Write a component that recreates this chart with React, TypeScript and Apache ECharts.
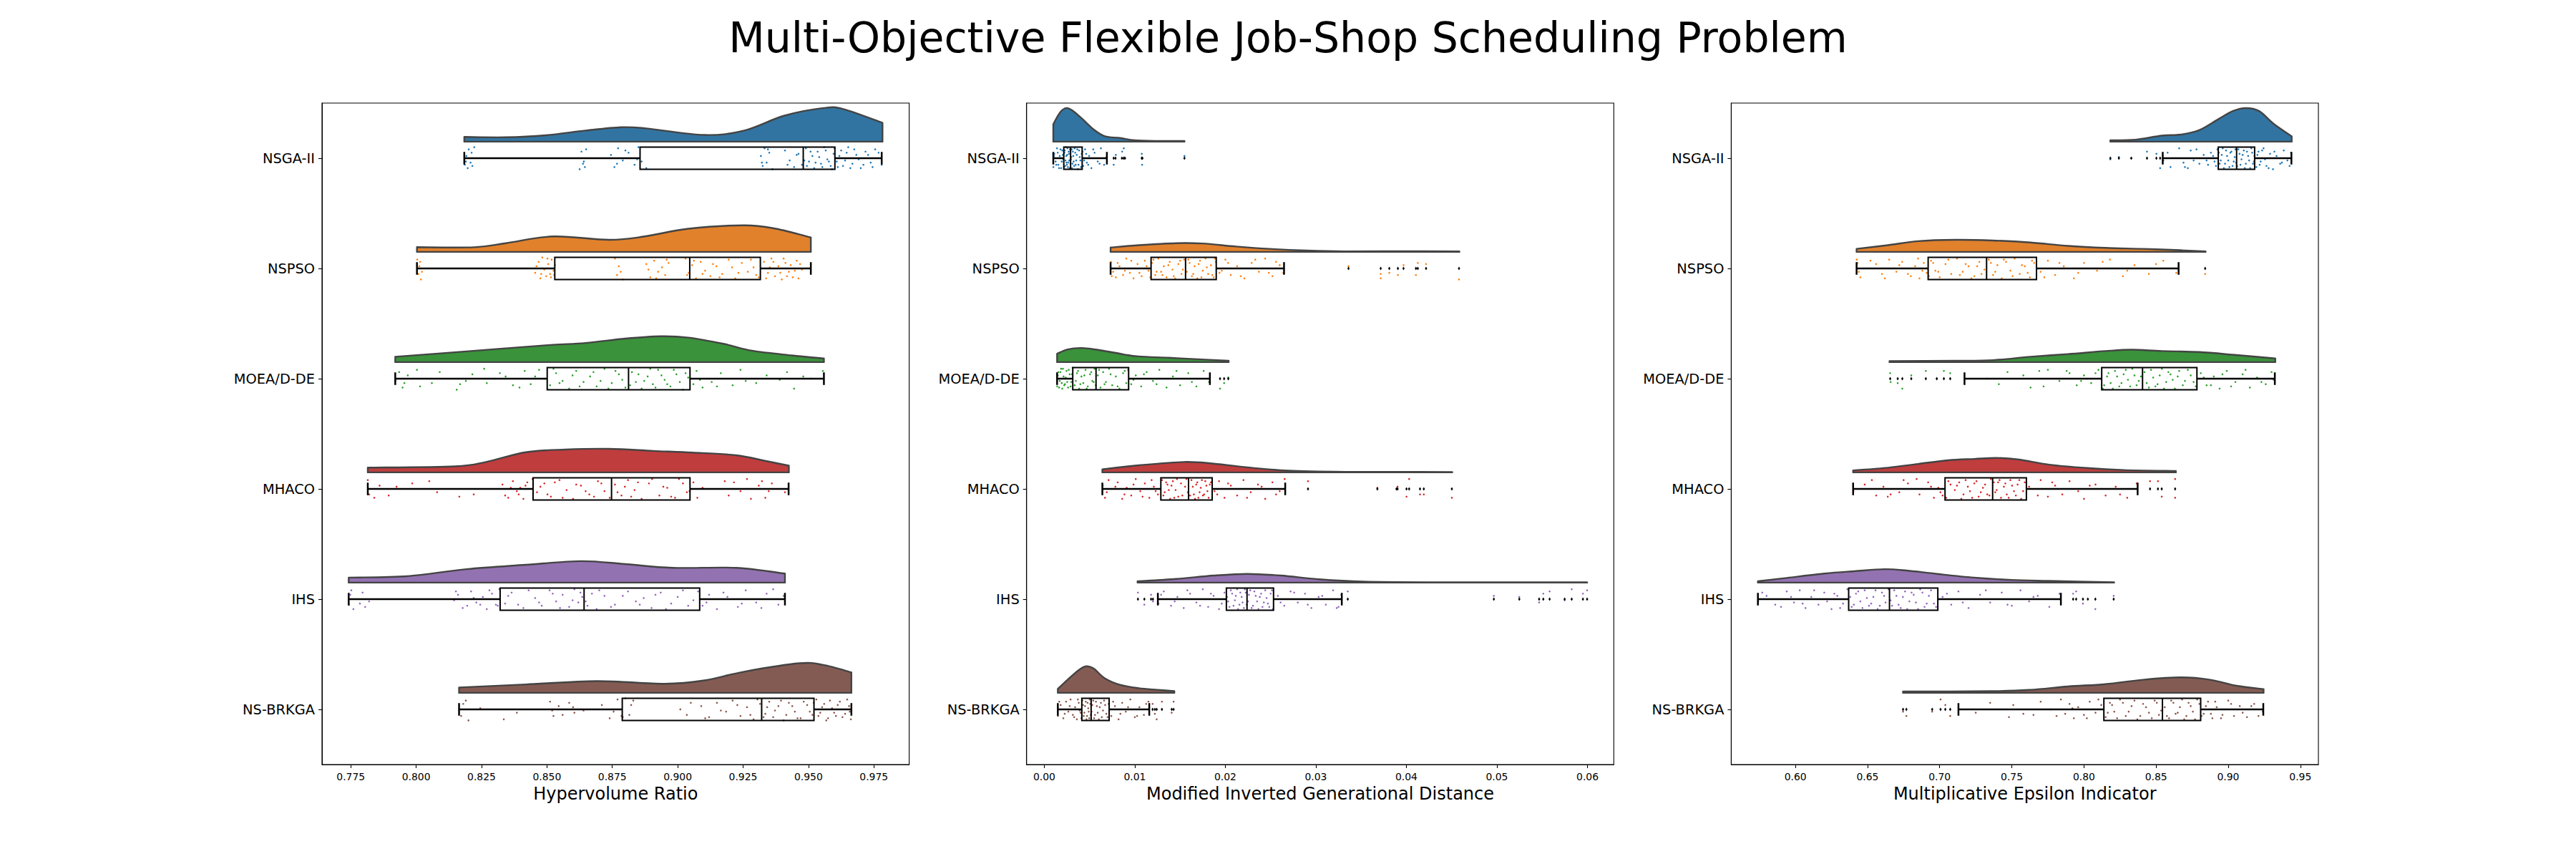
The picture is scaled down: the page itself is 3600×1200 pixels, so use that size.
import React, { useEffect, useRef } from 'react'
import * as echarts from 'echarts'

const algorithms = ['NSGA-II', 'NSPSO', 'MOEA/D-DE', 'MHACO', 'IHS', 'NS-BRKGA']
const metricNames = ['Hypervolume Ratio', 'Modified Inverted Generational Distance', 'Multiplicative Epsilon Indicator']
const cloudColors = ['#3274a1', '#e1812c', '#3a923a', '#c03d3e', '#9372b2', '#845b53']
const dotColors = ['#1f77b4', '#ff7f0e', '#2ca02c', '#d62728', '#9467bd', '#8c564b']

const hvTicks = [0.775, 0.8, 0.825, 0.85, 0.875, 0.9, 0.925, 0.95, 0.975]
const migdTicks = [0, 0.01, 0.02, 0.03, 0.04, 0.05, 0.06]
const meiTicks = [0.6, 0.65, 0.7, 0.75, 0.8, 0.85, 0.9, 0.95]

// box: [lower whisker, q1, median, q3, upper whisker]
const hvBoxes = [
  [0.8184, 0.8856, 0.948, 0.9601, 0.978],
  [0.8003, 0.853, 0.9046, 0.9316, 0.9509],
  [0.792, 0.8501, 0.8812, 0.9047, 0.9559],
  [0.7815, 0.8447, 0.8747, 0.9047, 0.9424],
  [0.7742, 0.8321, 0.8642, 0.9084, 0.941],
  [0.8164, 0.8788, 0.9321, 0.9521, 0.9664],
]
const migdBoxes = [
  [0.00099, 0.00215, 0.0029, 0.00418, 0.00691],
  [0.00732, 0.01179, 0.0156, 0.01899, 0.02648],
  [0.00141, 0.00314, 0.00571, 0.00931, 0.01829],
  [0.00641, 0.01287, 0.01593, 0.01854, 0.02661],
  [0.01254, 0.02011, 0.02239, 0.02532, 0.03286],
  [0.00149, 0.00414, 0.00517, 0.00716, 0.01159],
]
const meiBoxes = [
  [0.8546, 0.8931, 0.9058, 0.9183, 0.9438],
  [0.6424, 0.692, 0.7325, 0.7671, 0.8656],
  [0.7172, 0.8123, 0.8406, 0.8783, 0.9323],
  [0.64, 0.7037, 0.7367, 0.7601, 0.8372],
  [0.574, 0.6369, 0.6652, 0.6987, 0.784],
  [0.713, 0.8138, 0.8544, 0.8809, 0.9243],
]

const hvFliers: number[][] = [[], [], [], [], [], []]
const migdFliers = [
  [0.00766, 0.00786, 0.00857, 0.00877, 0.0089, 0.01076, 0.01084, 0.01548],
  [0.0336, 0.03716, 0.03811, 0.03906, 0.03968, 0.04105, 0.04126, 0.04217, 0.04581],
  [0.01941, 0.01986, 0.02032],
  [0.02913, 0.03679, 0.0389, 0.03902, 0.04001, 0.0403, 0.0415, 0.04192, 0.04502],
  [0.01034, 0.01105, 0.01179, 0.012, 0.03352, 0.04966, 0.05247, 0.05466, 0.05512, 0.05582, 0.05748, 0.05826, 0.0595, 0.05996],
  [0.01196, 0.01221, 0.01241, 0.01299, 0.01407, 0.01428],
]
const meiFliers = [
  [0.8183, 0.8242, 0.8328, 0.8437, 0.8502, 0.8528],
  [0.884],
  [0.6657, 0.6709, 0.6741, 0.6803, 0.6904, 0.698, 0.7029, 0.7073],
  [0.8458, 0.8513, 0.8539, 0.8632],
  [0.7925, 0.7946, 0.7993, 0.8027, 0.8079, 0.8206],
  [0.6746, 0.6769, 0.6948, 0.7006, 0.7039, 0.7073],
]

// half-violin density: [value, relative density (tallest cloud = 100)]
const hvDensity = [
  [[0.8184, 14], [0.8343, 13], [0.8495, 19], [0.8647, 33], [0.8783, 43], [0.8874, 40], [0.9102, 20], [0.9254, 33], [0.9406, 77], [0.9557, 100], [0.9633, 97], [0.9783, 56]],
  [[0.8003, 14], [0.8222, 14], [0.8343, 26], [0.8525, 46], [0.8738, 36], [0.8874, 46], [0.9041, 69], [0.9254, 79], [0.9375, 69], [0.9509, 43]],
  [[0.792, 16], [0.8192, 32], [0.8495, 50], [0.8647, 57], [0.8799, 70], [0.8935, 77], [0.9041, 73], [0.9178, 54], [0.9284, 34], [0.9436, 20], [0.9559, 11]],
  [[0.7815, 14], [0.8147, 18], [0.8267, 31], [0.8419, 60], [0.8571, 68], [0.8738, 70], [0.8905, 64], [0.9057, 59], [0.9223, 51], [0.933, 35], [0.9425, 20]],
  [[0.7742, 15], [0.7964, 19], [0.8192, 40], [0.8419, 53], [0.8632, 64], [0.8799, 55], [0.8981, 44], [0.9223, 44], [0.941, 27]],
  [[0.8164, 16], [0.8419, 25], [0.8692, 35], [0.895, 27], [0.9102, 37], [0.9254, 63], [0.9466, 88], [0.9557, 83], [0.9664, 61]],
]
const migdDensity = [
  [[0.00099, 52], [0.00174, 87], [0.00244, 100], [0.00319, 91], [0.00422, 67], [0.00546, 36], [0.0067, 16], [0.00836, 11], [0.01001, 4], [0.0125, 2], [0.01548, 2]],
  [[0.00732, 13], [0.01043, 20], [0.01457, 26], [0.01746, 25], [0.02119, 16], [0.02491, 9], [0.02905, 4], [0.03319, 1.5], [0.03939, 2], [0.04585, 1.5]],
  [[0.00141, 25], [0.00257, 38], [0.00422, 42], [0.00629, 35], [0.00877, 23], [0.01043, 17], [0.01374, 13], [0.01664, 9], [0.02036, 4]],
  [[0.00641, 9], [0.01043, 21], [0.01539, 31], [0.0187, 26], [0.02284, 14], [0.02698, 5], [0.03319, 1.5], [0.03939, 1.5], [0.04506, 1]],
  [[0.0103, 4], [0.01457, 11], [0.0187, 21], [0.02243, 26], [0.02615, 21], [0.03029, 10], [0.03526, 3], [0.04353, 1], [0.05181, 1], [0.05996, 1]],
  [[0.00149, 12], [0.00257, 39], [0.00381, 68], [0.00463, 79], [0.00546, 72], [0.0067, 43], [0.00836, 24], [0.01043, 14], [0.0125, 9], [0.01436, 5]],
]
const meiDensity = [
  [[0.8183, 4], [0.8357, 6], [0.8539, 18], [0.8669, 21], [0.8798, 34], [0.8928, 66], [0.9032, 91], [0.9123, 100], [0.9214, 91], [0.9318, 52], [0.944, 16]],
  [[0.6424, 9], [0.6642, 20], [0.685, 32], [0.711, 36], [0.7369, 34], [0.7629, 28], [0.7889, 18], [0.8149, 12], [0.8409, 9], [0.8669, 5], [0.8843, 1.5]],
  [[0.6652, 3], [0.711, 4], [0.7369, 6], [0.7629, 16], [0.7889, 24], [0.8149, 33], [0.8331, 37], [0.8539, 33], [0.8798, 30], [0.9058, 21], [0.9326, 11]],
  [[0.64, 6], [0.6642, 14], [0.685, 25], [0.7058, 36], [0.7239, 40], [0.7395, 43], [0.7551, 38], [0.7759, 23], [0.8019, 13], [0.8279, 7], [0.8637, 4]],
  [[0.574, 4], [0.594, 14], [0.62, 27], [0.6408, 34], [0.6616, 40], [0.6772, 36], [0.698, 26], [0.7239, 15], [0.7499, 8], [0.7759, 5], [0.8209, 1]],
  [[0.6746, 4], [0.7369, 5], [0.7629, 9], [0.7889, 19], [0.8149, 26], [0.8409, 39], [0.8669, 46], [0.8876, 39], [0.9058, 21], [0.9245, 11]],
]

// rain points: [value, vertical jitter as a share of the category band]
const hvPoints = [
  [[0.8186, 0.06], [0.8192, -0.02], [0.8197, 0.09], [0.8201, -0.08], [0.8208, 0.04], [0.8222, -0.1], [0.8215, 0.07], [0.8625, 0.1], [0.8632, -0.06], [0.8641, 0.03], [0.865, -0.08], [0.8638, 0.05], [0.8745, -0.03], [0.8758, 0.08], [0.8772, -0.09], [0.879, 0.02], [0.8812, -0.05], [0.8835, 0.06], [0.885, -0.1], [0.8862, 0.03], [0.888, 0.09], [0.9318, -0.02], [0.9325, 0.07], [0.9332, -0.09], [0.934, 0.04], [0.935, -0.05], [0.9362, 0.1], [0.941, -0.07], [0.9428, 0.02], [0.9445, 0.08], [0.9462, -0.04], [0.9475, 0.06], [0.949, -0.09], [0.9502, 0.03], [0.9515, -0.02], [0.9522, 0.09], [0.9535, -0.06], [0.9548, 0.05], [0.956, -0.1], [0.9572, 0.01], [0.9585, 0.07], [0.9596, -0.04], [0.9612, 0.08], [0.9625, -0.07], [0.964, 0.02], [0.9652, -0.1], [0.9668, 0.05], [0.9683, -0.03], [0.97, 0.09], [0.9718, -0.06], [0.9738, 0.04], [0.9755, -0.08], [0.978, 0.06]],
  [[0.8004, -0.08], [0.8008, 0.05], [0.8012, -0.02], [0.8018, 0.1], [0.8022, 0.03], [0.8455, 0.04], [0.8468, -0.06], [0.8475, 0.09], [0.8482, -0.1], [0.849, 0.01], [0.8497, 0.07], [0.8505, -0.04], [0.8512, 0.05], [0.8518, -0.08], [0.8525, 0.02], [0.8531, -0.03], [0.876, -0.09], [0.8768, 0.06], [0.8775, -0.02], [0.879, 0.1], [0.888, -0.04], [0.8895, 0.08], [0.891, -0.07], [0.8925, 0.03], [0.894, -0.01], [0.8952, 0.06], [0.8965, -0.05], [0.903, -0.09], [0.9042, 0.04], [0.9055, -0.03], [0.907, 0.09], [0.9088, -0.06], [0.9105, 0.02], [0.9125, 0.07], [0.9148, -0.02], [0.917, 0.05], [0.9195, -0.08], [0.922, 0.09], [0.9245, -0.05], [0.9268, 0.03], [0.929, -0.01], [0.931, 0.08], [0.933, -0.06], [0.9345, 0.04], [0.9358, -0.09], [0.9372, 0.07], [0.9385, -0.02], [0.9398, 0.1], [0.9412, -0.05], [0.9425, 0.03], [0.944, 0.08], [0.9455, -0.07], [0.9475, 0.01]],
  [[0.7921, 0.02], [0.7935, -0.06], [0.7948, 0.08], [0.7968, -0.03], [0.8003, -0.08], [0.8015, 0.07], [0.806, 0.04], [0.8155, 0.1], [0.8168, 0.05], [0.8215, -0.04], [0.826, -0.09], [0.827, 0.04], [0.83, 0.0], [0.8342, -0.02], [0.837, 0.06], [0.8415, -0.07], [0.8438, 0.05], [0.847, -0.08], [0.849, 0.0], [0.8512, 0.06], [0.8535, -0.05], [0.856, 0.02], [0.8585, 0.09], [0.8612, -0.07], [0.864, 0.03], [0.8665, -0.02], [0.869, 0.07], [0.872, -0.09], [0.8748, 0.04], [0.8775, -0.04], [0.88, 0.08], [0.8825, -0.06], [0.884, 0.03], [0.8862, 0.09], [0.8885, -0.02], [0.8905, 0.05], [0.8925, -0.08], [0.895, 0.01], [0.8972, 0.07], [0.8995, -0.04], [0.902, 0.1], [0.904, -0.01], [0.906, 0.05], [0.9072, -0.07], [0.9095, 0.08], [0.913, 0.03], [0.9165, -0.05], [0.921, 0.06], [0.926, 0.02], [0.934, -0.03], [0.939, 0.01], [0.9418, -0.06], [0.9445, 0.09], [0.951, 0.0], [0.9555, -0.07]],
  [[0.7815, -0.08], [0.782, 0.05], [0.786, -0.03], [0.7895, 0.06], [0.7925, -0.02], [0.7985, -0.05], [0.808, 0.03], [0.8165, 0.07], [0.822, 0.05], [0.833, -0.04], [0.8352, 0.08], [0.837, -0.07], [0.8385, 0.02], [0.8398, -0.01], [0.841, 0.09], [0.8425, -0.06], [0.8438, 0.04], [0.8445, -0.09], [0.8462, 0.03], [0.849, -0.05], [0.8515, 0.07], [0.8548, -0.08], [0.8575, 0.01], [0.86, 0.09], [0.863, -0.03], [0.8662, 0.05], [0.8695, -0.07], [0.872, 0.02], [0.874, 0.08], [0.876, -0.04], [0.8785, 0.06], [0.881, -0.08], [0.8835, 0.01], [0.8862, 0.09], [0.889, -0.05], [0.8915, 0.04], [0.8945, -0.02], [0.8975, 0.07], [0.9005, -0.09], [0.9035, 0.03], [0.906, -0.06], [0.9075, 0.08], [0.9095, -0.01], [0.918, -0.07], [0.9195, 0.06], [0.924, 0.02], [0.9265, -0.09], [0.929, 0.04], [0.931, -0.03], [0.9335, 0.08], [0.936, -0.05], [0.941, 0.03]],
  [[0.7743, 0.05], [0.7748, -0.04], [0.776, 0.09], [0.7795, -0.06], [0.7805, 0.07], [0.782, 0.02], [0.8145, 0.01], [0.816, -0.04], [0.8195, 0.06], [0.821, -0.07], [0.823, 0.03], [0.8255, -0.02], [0.827, 0.09], [0.829, -0.05], [0.8305, 0.05], [0.8318, -0.09], [0.834, 0.04], [0.8365, -0.06], [0.841, 0.08], [0.8455, -0.01], [0.848, 0.06], [0.851, -0.08], [0.8535, 0.02], [0.856, -0.04], [0.8585, 0.07], [0.8605, -0.09], [0.862, 0.03], [0.8635, -0.02], [0.8655, 0.06], [0.8672, -0.05], [0.869, 0.09], [0.872, -0.03], [0.876, 0.05], [0.881, -0.07], [0.884, 0.02], [0.887, -0.01], [0.89, 0.08], [0.8935, -0.06], [0.8975, 0.04], [0.902, -0.08], [0.906, 0.01], [0.9095, 0.06], [0.912, -0.04], [0.915, 0.09], [0.919, -0.02], [0.923, 0.07], [0.926, -0.08], [0.93, 0.03], [0.934, -0.05], [0.9385, 0.05], [0.9405, -0.03]],
  [[0.8165, 0.0], [0.8172, 0.06], [0.818, -0.05], [0.82, 0.1], [0.8245, -0.01], [0.8335, 0.09], [0.8385, 0.03], [0.8512, -0.07], [0.8525, 0.06], [0.8545, -0.03], [0.856, 0.05], [0.86, -0.02], [0.8605, 0.03], [0.864, 0.01], [0.871, -0.04], [0.874, 0.08], [0.877, -0.09], [0.8785, 0.06], [0.88, -0.1], [0.8815, 0.05], [0.883, -0.08], [0.901, 0.0], [0.9035, 0.05], [0.909, -0.03], [0.912, 0.07], [0.915, -0.06], [0.9185, 0.02], [0.921, -0.08], [0.924, 0.06], [0.9265, -0.02], [0.929, 0.09], [0.9315, -0.05], [0.9335, 0.04], [0.935, -0.07], [0.9365, 0.07], [0.9385, -0.03], [0.9405, 0.1], [0.9425, -0.06], [0.9448, 0.02], [0.947, 0.08], [0.9495, -0.04], [0.9515, 0.05], [0.953, -0.09], [0.9545, 0.03], [0.956, -0.05], [0.9575, 0.08], [0.959, -0.01], [0.9605, 0.06], [0.962, -0.07], [0.964, 0.04], [0.9655, -0.03], [0.9662, 0.09]],
]
const hvPointsMore = [
  [[0.819, 0.03], [0.8212, -0.05], [0.8645, 0.08], [0.8768, 0.05], [0.88, -0.07], [0.8845, 0.01], [0.9322, 0.04], [0.9345, -0.08], [0.942, 0.06], [0.9455, -0.03], [0.9484, 0.02], [0.9494, 0.07], [0.9508, -0.06], [0.9527, 0.04], [0.9541, -0.01], [0.9553, 0.08], [0.9566, -0.07], [0.9578, 0.03], [0.959, 0.1], [0.96, -0.09], [0.9608, 0.03], [0.9618, -0.02], [0.9632, 0.07], [0.9646, -0.05], [0.966, 0.09], [0.9675, -0.08], [0.9692, 0.01], [0.971, 0.06], [0.9728, -0.03], [0.9745, 0.08], [0.9768, -0.05]],
  [[0.8015, -0.06], [0.846, -0.02], [0.8478, 0.05], [0.8502, -0.09], [0.8515, 0.08], [0.8528, 0.06], [0.8782, 0.03], [0.8888, 0.01], [0.8918, 0.09], [0.8958, -0.08], [0.9036, 0.06], [0.9062, -0.07], [0.9095, 0.05], [0.9135, -0.04], [0.916, 0.08], [0.9208, -0.01], [0.9232, 0.04], [0.928, -0.08], [0.93, 0.06], [0.9338, 0.09], [0.9352, -0.01], [0.9366, -0.06], [0.9392, 0.04], [0.9405, -0.09], [0.9418, 0.07], [0.9432, -0.03], [0.9448, 0.02], [0.9462, 0.09], [0.9468, -0.04]],
  [[0.7955, 0.04], [0.809, -0.06], [0.819, 0.02], [0.832, -0.05], [0.8395, 0.08], [0.8455, -0.02], [0.8525, -0.09], [0.8548, 0.04], [0.8598, -0.03], [0.8625, 0.07], [0.8678, -0.06], [0.8705, 0.02], [0.8735, 0.09], [0.8762, -0.07], [0.8788, 0.01], [0.8818, 0.06], [0.885, -0.04], [0.8872, 0.02], [0.8895, -0.09], [0.8915, 0.08], [0.8938, -0.03], [0.896, 0.05], [0.8985, -0.08], [0.9008, 0.03], [0.903, -0.05], [0.9085, 0.01], [0.915, 0.07], [0.924, -0.08], [0.93, 0.04], [0.948, -0.02]],
  [[0.784, 0.08], [0.805, -0.07], [0.834, 0.06], [0.8362, -0.01], [0.8392, 0.05], [0.8418, -0.03], [0.8475, -0.02], [0.8502, 0.05], [0.853, -0.06], [0.856, 0.08], [0.8612, -0.04], [0.8648, 0.02], [0.868, 0.07], [0.8708, -0.05], [0.877, 0.03], [0.8798, -0.02], [0.8822, 0.07], [0.8848, -0.06], [0.8875, 0.04], [0.8902, -0.09], [0.893, 0.06], [0.896, -0.01], [0.899, 0.08], [0.902, -0.05], [0.9045, 0.02], [0.917, 0.04], [0.9215, -0.06], [0.928, 0.09], [0.9322, -0.07], [0.9348, 0.02]],
  [[0.7752, -0.08], [0.7785, 0.04], [0.8152, -0.07], [0.8178, 0.08], [0.822, -0.01], [0.8245, 0.05], [0.828, -0.08], [0.8312, 0.06], [0.8352, -0.03], [0.839, 0.05], [0.843, -0.08], [0.847, 0.03], [0.8522, -0.05], [0.855, 0.08], [0.8598, 0.01], [0.8628, -0.06], [0.8648, 0.02], [0.87, -0.08], [0.8745, 0.07], [0.879, -0.03], [0.8855, 0.05], [0.8915, -0.04], [0.8955, 0.09], [0.9, -0.02], [0.904, 0.06], [0.9078, -0.07], [0.911, 0.03], [0.9175, -0.06], [0.9245, 0.04], [0.932, 0.08], [0.9365, -0.09]],
  [[0.819, -0.08], [0.852, 0.01], [0.8585, -0.06], [0.8755, 0.02], [0.879, 0.07], [0.8822, -0.04], [0.905, -0.06], [0.9105, 0.08], [0.9165, 0.01], [0.9228, -0.04], [0.9278, 0.05], [0.9305, -0.09], [0.9328, 0.07], [0.9342, -0.02], [0.9372, 0.01], [0.9395, -0.08], [0.9415, 0.05], [0.9438, -0.03], [0.9458, 0.08], [0.9482, -0.07], [0.9505, 0.02], [0.952, -0.06], [0.9538, 0.06], [0.9552, -0.02], [0.9568, 0.1], [0.9582, -0.08], [0.9598, 0.03], [0.9612, -0.04], [0.963, 0.07], [0.9648, -0.09], [0.9658, 0.02]],
]
const migdPoints = [
  [[0.001, 0.08], [0.0011, -0.04], [0.00125, 0.03], [0.0014, -0.09], [0.00155, 0.06], [0.0017, -0.02], [0.00185, 0.09], [0.00198, -0.07], [0.0021, 0.01], [0.00222, -0.05], [0.0023, 0.07], [0.00238, -0.1], [0.00245, 0.04], [0.00252, -0.03], [0.0026, 0.08], [0.00268, -0.06], [0.00275, 0.02], [0.00283, -0.08], [0.0029, 0.05], [0.00298, -0.01], [0.00306, 0.09], [0.00315, -0.06], [0.00324, 0.03], [0.00335, -0.09], [0.00346, 0.06], [0.00358, -0.03], [0.0037, 0.1], [0.00384, -0.07], [0.00398, 0.02], [0.00412, -0.04], [0.0043, 0.07], [0.0045, -0.08], [0.0047, 0.04], [0.00495, -0.02], [0.0052, 0.09], [0.00555, -0.05], [0.0059, 0.03], [0.00625, -0.09], [0.0066, 0.06], [0.00688, -0.01], [0.00766, 0.06], [0.0079, -0.03], [0.0086, -0.06], [0.00878, -0.09], [0.00892, 0.0], [0.01076, -0.04], [0.0108, 0.06], [0.01548, -0.02]],
  [[0.00735, -0.06], [0.0076, 0.03], [0.0079, 0.08], [0.0083, -0.02], [0.0087, 0.06], [0.00905, -0.09], [0.00945, 0.04], [0.00985, 0.09], [0.0103, -0.04], [0.01075, 0.07], [0.0111, -0.07], [0.0115, 0.02], [0.0119, -0.05], [0.01225, 0.06], [0.0126, -0.09], [0.0129, 0.03], [0.0132, -0.02], [0.0135, 0.08], [0.01385, -0.06], [0.01415, 0.01], [0.01445, 0.09], [0.0148, -0.04], [0.01515, 0.05], [0.01545, -0.08], [0.01575, 0.03], [0.01605, -0.05], [0.0163, 0.07], [0.0166, -0.02], [0.0169, 0.09], [0.0172, -0.07], [0.0175, 0.02], [0.0178, -0.09], [0.0181, 0.05], [0.0184, -0.03], [0.0187, 0.08], [0.01895, -0.06], [0.01935, 0.04], [0.02, -0.08], [0.0206, 0.06], [0.0213, -0.02], [0.0221, 0.09], [0.0229, -0.05], [0.0237, 0.03], [0.0244, -0.09], [0.0252, 0.07], [0.026, -0.03], [0.0264, 0.04], [0.0336, -0.02], [0.03716, 0.05], [0.03716, 0.09], [0.03811, 0.04], [0.03906, 0.06], [0.03968, -0.03], [0.04105, 0.06], [0.04126, -0.05], [0.04217, -0.04], [0.04581, 0.1]],
  [[0.00142, 0.07], [0.00155, -0.06], [0.0017, 0.02], [0.00185, -0.09], [0.00198, 0.09], [0.00212, -0.02], [0.00228, 0.05], [0.00245, -0.07], [0.00262, 0.08], [0.0028, -0.04], [0.00298, 0.03], [0.00312, -0.1], [0.00335, 0.06], [0.0036, -0.05], [0.00385, 0.09], [0.0041, -0.02], [0.0043, 0.04], [0.00455, -0.08], [0.0048, 0.07], [0.00505, -0.04], [0.0053, 0.02], [0.00555, -0.09], [0.00568, 0.06], [0.0059, -0.03], [0.0062, 0.08], [0.0065, -0.06], [0.0068, 0.03], [0.00715, -0.09], [0.0075, 0.06], [0.0079, -0.02], [0.0083, 0.09], [0.0087, -0.05], [0.00905, 0.04], [0.00925, -0.08], [0.0096, 0.05], [0.0101, -0.03], [0.0107, 0.07], [0.0113, -0.06], [0.012, 0.02], [0.0127, -0.08], [0.0135, 0.08], [0.0142, -0.02], [0.015, 0.06], [0.0159, -0.05], [0.0168, 0.07], [0.0176, -0.07], [0.0182, 0.03], [0.01941, 0.09], [0.01986, 0.04], [0.02032, -0.01]],
  [[0.00645, -0.03], [0.0067, 0.08], [0.0071, -0.08], [0.0076, 0.04], [0.0081, -0.06], [0.0086, 0.09], [0.0091, -0.01], [0.0096, 0.06], [0.0101, -0.09], [0.0106, 0.02], [0.0111, -0.05], [0.0116, 0.08], [0.0121, -0.02], [0.01255, 0.05], [0.013, -0.08], [0.0133, 0.03], [0.0136, -0.04], [0.0139, 0.09], [0.0142, -0.07], [0.0145, 0.01], [0.0148, 0.07], [0.0151, -0.05], [0.0154, 0.04], [0.0157, -0.09], [0.0161, 0.06], [0.0164, -0.02], [0.01665, 0.09], [0.0169, -0.06], [0.01715, 0.03], [0.0174, -0.08], [0.01765, 0.05], [0.0179, -0.03], [0.01815, 0.08], [0.0184, -0.06], [0.0188, 0.02], [0.0193, -0.07], [0.0199, 0.08], [0.0206, -0.03], [0.0213, 0.06], [0.022, -0.08], [0.0228, 0.03], [0.0236, -0.04], [0.0244, 0.09], [0.0252, -0.06], [0.026, 0.02], [0.02655, -0.09], [0.02913, -0.07], [0.03679, -0.01], [0.0389, 0.04], [0.03902, -0.02], [0.04001, 0.07], [0.0403, -0.09], [0.0415, 0.05], [0.04192, 0.05], [0.04502, 0.08]],
  [[0.01034, -0.06], [0.01105, 0.05], [0.01179, -0.04], [0.012, 0.02], [0.0126, 0.04], [0.0132, -0.07], [0.014, 0.06], [0.0147, -0.02], [0.0154, 0.08], [0.0161, -0.05], [0.0168, 0.03], [0.0175, -0.09], [0.0181, 0.07], [0.0187, -0.03], [0.0193, 0.09], [0.0199, -0.06], [0.0203, 0.02], [0.0206, -0.08], [0.0209, 0.06], [0.02115, -0.03], [0.0214, 0.09], [0.02165, -0.06], [0.0219, 0.03], [0.02215, -0.09], [0.02235, 0.05], [0.0226, -0.04], [0.0229, 0.08], [0.0232, -0.07], [0.0235, 0.02], [0.0238, -0.02], [0.0241, 0.07], [0.0244, -0.08], [0.0247, 0.04], [0.025, -0.05], [0.02525, 0.09], [0.0258, -0.03], [0.0265, 0.06], [0.0272, -0.07], [0.028, 0.03], [0.0288, -0.05], [0.0295, 0.08], [0.0303, -0.02], [0.0311, 0.05], [0.0319, -0.08], [0.0325, 0.07], [0.0328, -0.04], [0.03352, -0.07], [0.04966, -0.03], [0.05247, -0.02], [0.05466, 0.03], [0.05512, -0.05], [0.05582, -0.07], [0.05748, 0.01], [0.05826, -0.09], [0.0595, -0.05], [0.05996, -0.08]],
  [[0.0015, 0.06], [0.0018, -0.04], [0.0021, 0.08], [0.0024, -0.07], [0.00265, 0.02], [0.0029, -0.09], [0.00315, 0.05], [0.0034, -0.02], [0.0036, 0.09], [0.0038, -0.06], [0.004, 0.03], [0.0042, -0.08], [0.00435, 0.06], [0.0045, -0.03], [0.00465, 0.09], [0.00478, -0.06], [0.0049, 0.02], [0.00502, -0.09], [0.00512, 0.05], [0.0053, -0.04], [0.0055, 0.08], [0.0057, -0.07], [0.0059, 0.03], [0.00612, -0.02], [0.00635, 0.07], [0.0066, -0.08], [0.00685, 0.04], [0.0071, -0.05], [0.0074, 0.06], [0.0078, -0.03], [0.0082, 0.09], [0.0086, -0.06], [0.009, 0.02], [0.0095, -0.09], [0.01, 0.07], [0.0105, -0.02], [0.011, 0.05], [0.0115, -0.07], [0.01196, -0.05], [0.01221, 0.04], [0.01241, 0.09], [0.01299, -0.07], [0.01407, 0.03], [0.01428, -0.07]],
]
const migdPointsMore = [
  [[0.00105, -0.02], [0.00132, 0.06], [0.00148, -0.05], [0.00162, 0.09], [0.00178, -0.08], [0.00192, 0.03], [0.00205, -0.03], [0.00218, 0.08], [0.00226, -0.07], [0.00234, 0.02], [0.00242, -0.02], [0.00249, 0.06], [0.00256, -0.09], [0.00264, 0.04], [0.00272, -0.04], [0.00279, 0.09], [0.00287, -0.06], [0.00294, 0.01], [0.00302, -0.08], [0.00311, 0.05], [0.0032, -0.02], [0.0033, 0.07], [0.00341, -0.05], [0.00352, 0.02], [0.00364, -0.08], [0.00377, 0.06], [0.00391, -0.01], [0.00405, 0.08], [0.00422, -0.06], [0.0044, 0.02], [0.00462, -0.04], [0.00485, 0.06], [0.0054, -0.08], [0.0061, 0.05]],
  [[0.00745, 0.07], [0.0081, -0.05], [0.0089, 0.02], [0.0096, -0.07], [0.0105, 0.04], [0.0113, -0.02], [0.0117, 0.08], [0.01205, -0.08], [0.0124, 0.03], [0.01305, 0.06], [0.0137, -0.03], [0.0143, 0.07], [0.015, -0.07], [0.0153, 0.01], [0.0159, -0.08], [0.01645, 0.05], [0.01705, -0.04], [0.01735, 0.08], [0.01795, -0.01], [0.01855, 0.06], [0.01885, -0.09], [0.0196, 0.02], [0.0203, -0.05], [0.0217, 0.07], [0.0233, -0.08], [0.0248, 0.04], [0.0256, -0.06]],
  [[0.00148, -0.03], [0.00163, 0.08], [0.00178, -0.06], [0.00192, 0.04], [0.00205, -0.09], [0.0022, 0.06], [0.00236, -0.01], [0.00253, 0.03], [0.0027, -0.08], [0.0029, 0.07], [0.00305, -0.04], [0.00348, 0.02], [0.00372, -0.07], [0.00398, 0.05], [0.00442, -0.03], [0.00468, 0.09], [0.00518, -0.06], [0.00545, 0.03], [0.00605, -0.08], [0.00665, 0.05], [0.00732, -0.04], [0.0081, 0.07], [0.00888, -0.07], [0.00985, 0.01], [0.011, -0.04], [0.0124, 0.05], [0.0146, -0.07], [0.0163, 0.03]],
  [[0.0069, 0.03], [0.00785, -0.02], [0.00885, 0.05], [0.00985, -0.04], [0.01085, 0.07], [0.01185, -0.08], [0.0123, 0.02], [0.01315, 0.06], [0.01345, -0.06], [0.01375, 0.01], [0.01405, -0.03], [0.01435, 0.08], [0.01465, -0.09], [0.01525, 0.06], [0.01555, -0.02], [0.01585, 0.03], [0.01625, -0.08], [0.01652, 0.05], [0.01678, -0.04], [0.01702, 0.08], [0.01728, -0.01], [0.01752, 0.06], [0.01778, -0.07], [0.01802, 0.02], [0.01828, -0.04], [0.0191, 0.05], [0.0203, -0.05], [0.0224, 0.08], [0.024, -0.02], [0.0256, 0.05]],
  [[0.0129, -0.04], [0.0144, 0.02], [0.0158, -0.08], [0.0172, 0.06], [0.0184, -0.05], [0.0196, 0.04], [0.0202, -0.02], [0.02045, 0.07], [0.02075, -0.05], [0.02105, 0.01], [0.0213, -0.09], [0.02155, 0.05], [0.0218, -0.02], [0.02205, 0.08], [0.02225, -0.06], [0.0225, 0.02], [0.02275, -0.08], [0.02305, 0.06], [0.02335, -0.03], [0.02365, 0.09], [0.02395, -0.05], [0.02425, 0.03], [0.02455, -0.01], [0.02485, 0.07], [0.02515, -0.08], [0.0261, 0.03], [0.0276, -0.06], [0.0291, 0.05], [0.0307, -0.03], [0.0323, 0.08]],
  [[0.00165, -0.07], [0.00225, 0.04], [0.0028, -0.03], [0.0033, 0.07], [0.0037, -0.09], [0.00392, 0.01], [0.0041, 0.08], [0.00428, -0.04], [0.00442, 0.03], [0.00458, -0.07], [0.00472, 0.06], [0.00485, -0.01], [0.00496, 0.08], [0.00508, -0.05], [0.00522, 0.02], [0.0054, -0.08], [0.0056, 0.05], [0.0058, -0.03], [0.00602, 0.09], [0.00625, -0.06], [0.00648, 0.01], [0.00672, -0.04], [0.00698, 0.07], [0.0076, -0.07], [0.0084, 0.04], [0.00925, -0.02], [0.01025, 0.06], [0.01125, -0.05]],
]
const meiPoints = [
  [[0.8183, 0.01], [0.8242, -0.01], [0.8328, 0.0], [0.8437, -0.06], [0.8502, -0.04], [0.8528, 0.09], [0.855, 0.02], [0.86, 0.08], [0.866, -0.09], [0.87, 0.08], [0.872, 0.09], [0.874, -0.07], [0.876, 0.02], [0.88, 0.05], [0.883, -0.03], [0.886, 0.06], [0.888, -0.05], [0.8905, 0.03], [0.8925, -0.08], [0.894, 0.05], [0.8955, -0.03], [0.897, 0.09], [0.8985, -0.07], [0.9, 0.02], [0.9015, -0.05], [0.903, 0.07], [0.9045, -0.01], [0.9055, 0.04], [0.907, -0.08], [0.9085, 0.06], [0.91, -0.03], [0.9115, 0.09], [0.913, -0.06], [0.9145, 0.02], [0.916, -0.09], [0.9172, 0.05], [0.9182, -0.02], [0.9195, 0.08], [0.921, -0.06], [0.9225, 0.03], [0.9245, -0.09], [0.9265, 0.07], [0.929, -0.04], [0.931, 0.1], [0.9335, -0.02], [0.936, 0.05], [0.9385, -0.07], [0.941, 0.02], [0.9435, -0.05]],
  [[0.6425, -0.08], [0.643, -0.05], [0.645, 0.08], [0.656, -0.04], [0.66, 0.05], [0.665, -0.08], [0.67, 0.03], [0.674, -0.06], [0.68, 0.07], [0.683, -0.02], [0.686, 0.09], [0.689, -0.05], [0.691, 0.04], [0.694, -0.07], [0.697, 0.02], [0.7, 0.08], [0.704, -0.04], [0.708, 0.05], [0.712, -0.09], [0.716, 0.03], [0.72, -0.02], [0.724, 0.07], [0.7275, -0.06], [0.731, 0.01], [0.734, -0.08], [0.737, 0.06], [0.74, -0.03], [0.743, 0.09], [0.746, -0.06], [0.749, 0.02], [0.752, -0.09], [0.7555, 0.05], [0.759, -0.02], [0.7625, 0.08], [0.7655, -0.05], [0.77, 0.03], [0.775, -0.07], [0.78, 0.06], [0.786, -0.02], [0.793, 0.09], [0.8, -0.05], [0.809, 0.02], [0.818, -0.08], [0.827, 0.07], [0.835, -0.03], [0.845, 0.05], [0.855, -0.07], [0.864, 0.04], [0.884, 0.05]],
  [[0.6657, -0.05], [0.666, 0.03], [0.6709, 0.04], [0.6741, 0.09], [0.6803, -0.03], [0.6904, -0.07], [0.698, 0.0], [0.7029, -0.07], [0.7073, -0.05], [0.733, 0.0], [0.747, -0.06], [0.763, 0.08], [0.769, -0.07], [0.775, -0.08], [0.783, 0.02], [0.79, -0.05], [0.795, 0.06], [0.8, -0.03], [0.805, 0.04], [0.81, -0.08], [0.814, 0.06], [0.817, -0.05], [0.82, 0.09], [0.823, -0.02], [0.826, 0.04], [0.829, -0.08], [0.832, 0.07], [0.835, -0.03], [0.838, 0.02], [0.842, -0.06], [0.845, 0.08], [0.848, -0.01], [0.851, 0.05], [0.854, -0.09], [0.857, 0.03], [0.86, -0.04], [0.863, 0.09], [0.866, -0.07], [0.87, 0.02], [0.874, -0.03], [0.8775, 0.07], [0.881, -0.05], [0.885, 0.06], [0.89, -0.02], [0.894, 0.09], [0.899, -0.07], [0.905, 0.03], [0.91, -0.04], [0.915, 0.08], [0.92, -0.01], [0.926, 0.05], [0.93, -0.06]],
  [[0.6402, 0.02], [0.653, -0.08], [0.656, 0.06], [0.661, -0.02], [0.666, 0.05], [0.672, 0.03], [0.678, -0.05], [0.684, -0.09], [0.688, 0.04], [0.692, -0.06], [0.696, 0.08], [0.699, -0.01], [0.702, 0.06], [0.706, -0.07], [0.709, 0.04], [0.712, -0.03], [0.715, 0.09], [0.718, -0.08], [0.721, 0.02], [0.724, -0.05], [0.727, 0.07], [0.73, -0.01], [0.733, 0.05], [0.7355, -0.09], [0.7385, 0.03], [0.7405, -0.06], [0.7425, 0.08], [0.7445, -0.02], [0.7465, 0.05], [0.749, -0.08], [0.7515, 0.02], [0.754, -0.04], [0.7565, 0.09], [0.759, -0.06], [0.764, 0.04], [0.77, -0.08], [0.775, 0.07], [0.78, -0.03], [0.785, 0.05], [0.79, -0.07], [0.796, 0.02], [0.8, 0.09], [0.808, -0.04], [0.815, 0.06], [0.822, -0.02], [0.83, 0.08], [0.8365, -0.05], [0.8458, -0.07], [0.8513, -0.07], [0.8539, 0.07], [0.8632, -0.09], [0.8632, 0.08]],
  [[0.5742, 0.02], [0.58, -0.03], [0.586, 0.05], [0.594, -0.07], [0.599, 0.03], [0.603, -0.08], [0.607, 0.08], [0.611, -0.02], [0.616, 0.05], [0.62, -0.06], [0.625, 0.09], [0.629, -0.03], [0.633, 0.04], [0.636, -0.09], [0.639, 0.07], [0.642, -0.05], [0.645, 0.02], [0.648, -0.08], [0.651, 0.06], [0.654, -0.02], [0.657, 0.09], [0.66, -0.06], [0.6625, 0.03], [0.6645, -0.09], [0.667, 0.06], [0.67, -0.03], [0.673, 0.08], [0.676, -0.07], [0.679, 0.02], [0.682, -0.04], [0.685, 0.09], [0.688, -0.06], [0.691, 0.04], [0.694, -0.08], [0.6975, 0.07], [0.702, -0.02], [0.708, 0.05], [0.713, -0.07], [0.72, 0.08], [0.728, -0.04], [0.735, 0.03], [0.743, -0.06], [0.75, 0.06], [0.756, -0.08], [0.762, 0.02], [0.768, -0.03], [0.776, 0.07], [0.783, -0.05], [0.7925, -0.05], [0.7946, -0.07], [0.7993, 0.04], [0.8079, 0.09], [0.8206, -0.03]],
  [[0.6746, 0.02], [0.6769, 0.06], [0.6948, 0.02], [0.7006, -0.09], [0.7039, -0.04], [0.7073, 0.06], [0.725, 0.03], [0.748, 0.07], [0.751, -0.04], [0.765, 0.05], [0.777, 0.0], [0.784, -0.09], [0.787, 0.04], [0.79, -0.05], [0.793, 0.08], [0.796, -0.02], [0.8, 0.05], [0.804, -0.07], [0.808, 0.03], [0.812, -0.04], [0.815, 0.07], [0.818, -0.06], [0.821, 0.02], [0.825, -0.09], [0.829, 0.06], [0.833, -0.03], [0.837, 0.09], [0.841, -0.05], [0.845, 0.03], [0.849, -0.08], [0.852, 0.05], [0.856, -0.02], [0.859, 0.08], [0.862, -0.06], [0.865, 0.03], [0.868, -0.09], [0.871, 0.06], [0.874, -0.03], [0.877, 0.09], [0.88, -0.05], [0.883, 0.04], [0.886, -0.07], [0.889, 0.08], [0.892, -0.02], [0.896, 0.05], [0.9, -0.08], [0.904, 0.06], [0.908, -0.03], [0.913, 0.07], [0.918, -0.05], [0.924, 0.02]],
]
const meiPointsMore = [
  [[0.858, -0.05], [0.869, 0.04], [0.878, -0.08], [0.885, 0.02], [0.8895, -0.02], [0.8915, 0.07], [0.8935, -0.05], [0.8948, 0.02], [0.8962, -0.09], [0.8978, 0.05], [0.8992, -0.02], [0.9008, 0.08], [0.9022, -0.06], [0.9038, 0.03], [0.905, -0.08], [0.9062, 0.07], [0.9078, -0.04], [0.9092, 0.01], [0.9108, -0.07], [0.9122, 0.05], [0.9138, -0.02], [0.9152, 0.09], [0.9166, -0.05], [0.9178, 0.03], [0.9202, -0.03], [0.9218, 0.06], [0.9235, -0.07], [0.9255, 0.01], [0.928, 0.09], [0.932, -0.06], [0.9372, 0.04], [0.9425, 0.07]],
  [[0.644, 0.03], [0.652, -0.07], [0.662, 0.09], [0.672, -0.03], [0.678, 0.05], [0.685, -0.09], [0.688, 0.02], [0.6925, 0.07], [0.6955, -0.05], [0.699, 0.03], [0.706, -0.08], [0.714, 0.06], [0.718, -0.04], [0.722, 0.09], [0.726, -0.02], [0.729, 0.05], [0.7355, -0.05], [0.7385, 0.03], [0.7445, -0.08], [0.7505, 0.07], [0.757, -0.03], [0.761, 0.04], [0.764, -0.07], [0.7725, 0.08], [0.783, -0.05], [0.796, 0.04], [0.813, -0.06], [0.83, 0.02], [0.85, -0.04]],
  [[0.741, 0.05], [0.758, -0.03], [0.772, 0.07], [0.788, -0.07], [0.798, 0.02], [0.808, -0.05], [0.813, 0.09], [0.816, -0.02], [0.8185, 0.04], [0.8215, -0.07], [0.8245, 0.07], [0.8275, -0.04], [0.8305, 0.01], [0.8335, -0.09], [0.8365, 0.06], [0.8395, -0.02], [0.8435, 0.04], [0.8465, -0.08], [0.8495, 0.07], [0.8525, -0.03], [0.8555, 0.09], [0.8585, -0.06], [0.8615, 0.01], [0.865, -0.02], [0.8685, 0.06], [0.872, -0.08], [0.876, 0.03], [0.883, -0.01], [0.888, 0.06], [0.896, -0.04], [0.902, 0.07], [0.912, -0.08], [0.923, 0.03], [0.9315, 0.01]],
  [[0.648, -0.04], [0.664, 0.07], [0.675, -0.08], [0.686, 0.05], [0.694, -0.02], [0.7005, 0.03], [0.7045, 0.08], [0.7075, -0.04], [0.7105, 0.01], [0.7135, -0.06], [0.7165, 0.05], [0.7195, -0.02], [0.7225, 0.08], [0.7255, -0.07], [0.7285, 0.03], [0.7315, -0.04], [0.7345, 0.06], [0.7375, -0.06], [0.7395, 0.01], [0.7415, -0.08], [0.7435, 0.04], [0.7455, -0.05], [0.7478, 0.08], [0.7502, -0.03], [0.7528, 0.06], [0.7552, -0.08], [0.7578, 0.02], [0.762, -0.02], [0.768, 0.06], [0.778, -0.06], [0.788, 0.04], [0.804, -0.03], [0.825, 0.05]],
  [[0.577, -0.06], [0.59, 0.07], [0.597, -0.02], [0.605, 0.04], [0.613, -0.08], [0.622, 0.02], [0.627, -0.05], [0.631, 0.08], [0.638, -0.02], [0.6405, 0.05], [0.6435, -0.07], [0.6465, 0.08], [0.6495, -0.01], [0.6525, 0.04], [0.6555, -0.08], [0.6585, 0.06], [0.6615, -0.03], [0.666, 0.01], [0.6685, -0.08], [0.6715, 0.05], [0.6745, -0.02], [0.6775, 0.09], [0.6805, -0.06], [0.6835, 0.03], [0.6865, -0.09], [0.6895, 0.07], [0.6925, -0.03], [0.696, 0.04], [0.705, -0.05], [0.716, 0.03], [0.732, -0.08], [0.747, 0.05], [0.765, -0.02]],
  [[0.735, -0.06], [0.758, 0.04], [0.77, -0.07], [0.781, 0.06], [0.792, -0.01], [0.802, 0.08], [0.81, -0.09], [0.8165, 0.03], [0.8195, -0.04], [0.823, 0.08], [0.827, -0.06], [0.831, 0.02], [0.835, -0.08], [0.839, 0.06], [0.843, -0.02], [0.847, 0.08], [0.8505, -0.06], [0.8535, 0.01], [0.8575, 0.06], [0.8605, -0.08], [0.8635, 0.04], [0.8665, -0.02], [0.8695, 0.09], [0.8725, -0.06], [0.8755, 0.02], [0.8785, -0.09], [0.8815, 0.06], [0.8845, -0.03], [0.888, 0.04], [0.891, -0.07], [0.895, 0.08], [0.902, -0.05], [0.91, 0.03], [0.916, -0.03], [0.921, 0.06]],
]

const panels = [
  { name: metricNames[0], ticks: hvTicks, decimals: 3, boxes: hvBoxes, fliers: hvFliers, density: hvDensity, points: hvPoints.map((g, i) => g.concat(hvPointsMore[i])) },
  { name: metricNames[1], ticks: migdTicks, decimals: 2, boxes: migdBoxes, fliers: migdFliers, density: migdDensity, points: migdPoints.map((g, i) => g.concat(migdPointsMore[i])) },
  { name: metricNames[2], ticks: meiTicks, decimals: 2, boxes: meiBoxes, fliers: meiFliers, density: meiDensity, points: meiPoints.map((g, i) => g.concat(meiPointsMore[i])) },
]

const font = 'DejaVu Sans'

const makeRenderItem = (p: any) => (params: any, api: any) => {
  const i = params.dataIndex
  const band = api.size([0, 1])[1]
  const cy = api.coord([0, i])[1]
  const X = (v: number) => api.coord([v, i])[0]
  const base = cy - 0.15 * band
  const hMax = 0.305 * band

  // half violin (cloud), smoothed with catmull-rom through the read density points
  const pts = p.density[i].map(([v, d]: number[]) => [X(v), base - (d / 100) * hMax])
  let d = `M${pts[0][0]},${base} L${pts[0][0]},${pts[0][1]}`
  for (let k = 0; k < pts.length - 1; k++) {
    const p0 = pts[Math.max(k - 1, 0)]
    const p1 = pts[k]
    const p2 = pts[k + 1]
    const p3 = pts[Math.min(k + 2, pts.length - 1)]
    const c1x = p1[0] + (p2[0] - p0[0]) / 6
    const c1y = Math.min(base, p1[1] + (p2[1] - p0[1]) / 6)
    const c2x = p2[0] - (p3[0] - p1[0]) / 6
    const c2y = Math.min(base, p2[1] - (p3[1] - p1[1]) / 6)
    d += ` C${c1x},${c1y} ${c2x},${c2y} ${p2[0]},${p2[1]}`
  }
  const last = pts[pts.length - 1]
  d += ` L${last[0]},${base} Z`

  const children: any[] = [
    {
      type: 'path',
      shape: { pathData: d },
      style: { fill: cloudColors[i], stroke: '#444444', lineWidth: 2.4, lineJoin: 'round' },
    },
  ]

  // rain
  p.points[i].forEach(([v, j]: number[]) => {
    children.push({
      type: 'circle',
      shape: { cx: X(v), cy: cy + j * band, r: 1.3 },
      style: { fill: dotColors[i] },
    })
  })

  // box plot
  const [lo, q1, med, q3, hi] = p.boxes[i]
  const half = 0.1 * band
  const cap = 0.057 * band
  const black = { stroke: '#000', lineWidth: 2 }
  const whisker = { stroke: '#000', lineWidth: 2.5 }
  children.push(
    { type: 'rect', shape: { x: X(q1), y: cy - half, width: X(q3) - X(q1), height: 2 * half }, style: { fill: 'none', ...black } },
    { type: 'line', shape: { x1: X(lo), y1: cy, x2: X(q1), y2: cy }, style: whisker },
    { type: 'line', shape: { x1: X(q3), y1: cy, x2: X(hi), y2: cy }, style: whisker },
    { type: 'line', shape: { x1: X(lo), y1: cy - cap, x2: X(lo), y2: cy + cap }, style: whisker },
    { type: 'line', shape: { x1: X(hi), y1: cy - cap, x2: X(hi), y2: cy + cap }, style: whisker },
    { type: 'line', shape: { x1: X(med), y1: cy - half, x2: X(med), y2: cy + half }, style: black },
  )

  // outliers
  p.fliers[i].forEach((v: number) => {
    const fx = X(v)
    children.push({
      type: 'polygon',
      shape: { points: [[fx, cy - 2.6], [fx + 1.6, cy], [fx, cy + 2.6], [fx - 1.6, cy]] },
      style: { fill: '#000' },
    })
  })

  return { type: 'group', children }
}

const App: React.FC = () => {
  const chartRef = useRef<HTMLDivElement>(null)

  useEffect(() => {
    if (!chartRef.current) return
    document.body.style.margin = '0'
    document.body.style.overflow = 'hidden'

    const chart = echarts.init(chartRef.current, undefined, { renderer: 'svg' })

    const panelLeft = 450
    const panelWidth = 820.6
    const panelStep = 984.7

    const option: any = {
      animation: false,
      backgroundColor: '#fff',
      textStyle: { fontFamily: font },
      title: {
        text: 'Multi-Objective Flexible Job-Shop Scheduling Problem',
        left: 'center',
        top: 18,
        textStyle: { fontSize: 58.5, fontWeight: 'normal', color: '#000', fontFamily: font },
      },
      grid: panels.map((_, k) => ({
        left: panelLeft + k * panelStep,
        top: 144,
        width: panelWidth,
        height: 924,
        show: true,
        borderColor: '#000',
        borderWidth: 1.1,
        backgroundColor: 'transparent',
      })),
      xAxis: panels.map((p, k) => {
        // x range: data extent plus 5% margin on each side
        const lo = Math.min(...p.density.map((g: number[][]) => g[0][0]))
        const hi = Math.max(...p.density.map((g: number[][]) => g[g.length - 1][0]))
        const pad = (hi - lo) * 0.05
        return {
          type: 'value',
          gridIndex: k,
          min: lo - pad,
          max: hi + pad,
          name: p.name,
          nameLocation: 'middle',
          nameGap: 27,
          nameTextStyle: { fontSize: 24, color: '#000', fontFamily: font },
          axisLine: { show: true, onZero: false, lineStyle: { color: '#000', width: 1.1 } },
          axisTick: { show: true, length: 5, customValues: p.ticks, lineStyle: { color: '#000', width: 1.1 } },
          axisLabel: {
            customValues: p.ticks,
            formatter: (v: number) => v.toFixed(p.decimals),
            fontSize: 13.9,
            color: '#000',
            margin: 10,
            fontFamily: font,
          },
          splitLine: { show: false },
        }
      }),
      yAxis: panels.map((_, k) => ({
        type: 'category',
        gridIndex: k,
        data: algorithms,
        inverse: true,
        axisLine: { show: true, onZero: false, lineStyle: { color: '#000', width: 1.1 } },
        axisTick: { show: true, alignWithLabel: true, length: 5, lineStyle: { color: '#000', width: 1.1 } },
        axisLabel: { fontSize: 19.4, color: '#000', margin: 10, fontFamily: font },
        splitLine: { show: false },
      })),
      series: panels.map((p, k) => ({
        type: 'custom',
        xAxisIndex: k,
        yAxisIndex: k,
        silent: true,
        clip: false,
        data: algorithms.map((_, i) => [p.boxes[i][2], i]),
        encode: { x: 0, y: 1 },
        renderItem: makeRenderItem(p),
      })),
    }

    chart.setOption(option)

    return () => {
      chart.dispose()
    }
  }, [])

  return <div ref={chartRef} style={{ width: 3600, height: 1200 }} />
}

export default App
